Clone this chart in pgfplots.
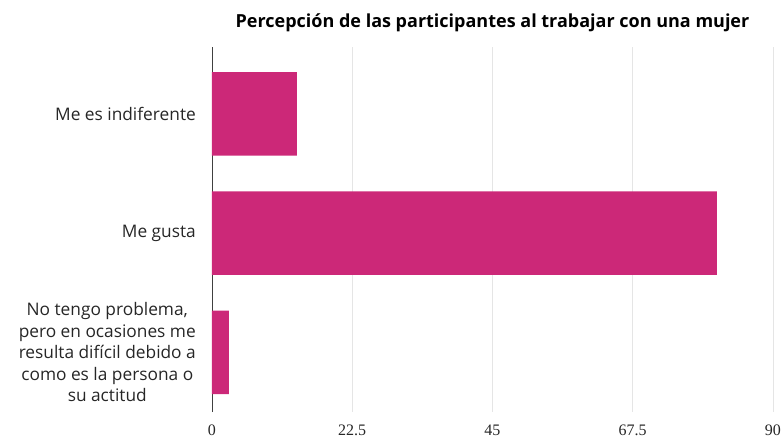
\documentclass[border=0pt]{standalone}
\usepackage{pgfplots}
\pgfplotsset{compat=1.18}
\usepackage{fontspec}
\setmainfont{Open Sans}
\newfontfamily\numfont{Liberation Serif}
\definecolor{barc}{RGB}{204,40,120}
\begin{document}
\begin{tikzpicture}
\begin{axis}[
  at={(0pt,0pt)}, anchor=south west,
  scale only axis, width=561pt, height=365pt,
  xbar, bar width=0.7,
  xmin=0, xmax=90,
  ymin=-0.5, ymax=2.56,
  xtick={0,22.5,45,67.5,90},
  xticklabels={0,22.5,45,67.5,90},
  ytick={0,1,2},
  yticklabels={{No tengo problema,\\pero en ocasiones me\\resulta difícil debido a\\como es la persona o\\su actitud},{Me gusta},{Me es indiferente}},
  yticklabel style={align=center, font=\fontsize{17.3}{21.5}\selectfont, text=black!85, inner sep=0pt, xshift=-16pt},
  xticklabel style={font=\numfont\fontsize{16}{18}\selectfont, text=black!85, inner sep=0pt, yshift=-13pt},
  major tick length=0pt,
  xmajorgrids, grid style={gray!20, line width=0.9pt},
  axis lines=left,
  x axis line style={draw=none},
  y axis line style={-, black!75, line width=0.8pt},
  title={\bfseries Percepción de las participantes al trabajar con una mujer},
  title style={font=\fontsize{18}{20}\selectfont, yshift=6pt},
]
\addplot[fill=barc, draw=none] coordinates {(2.7,0) (81,1) (13.6,2)};
\end{axis}
\pgfresetboundingbox
\path (-212pt,-30pt) rectangle (572pt,412pt);
\end{tikzpicture}
\end{document}
